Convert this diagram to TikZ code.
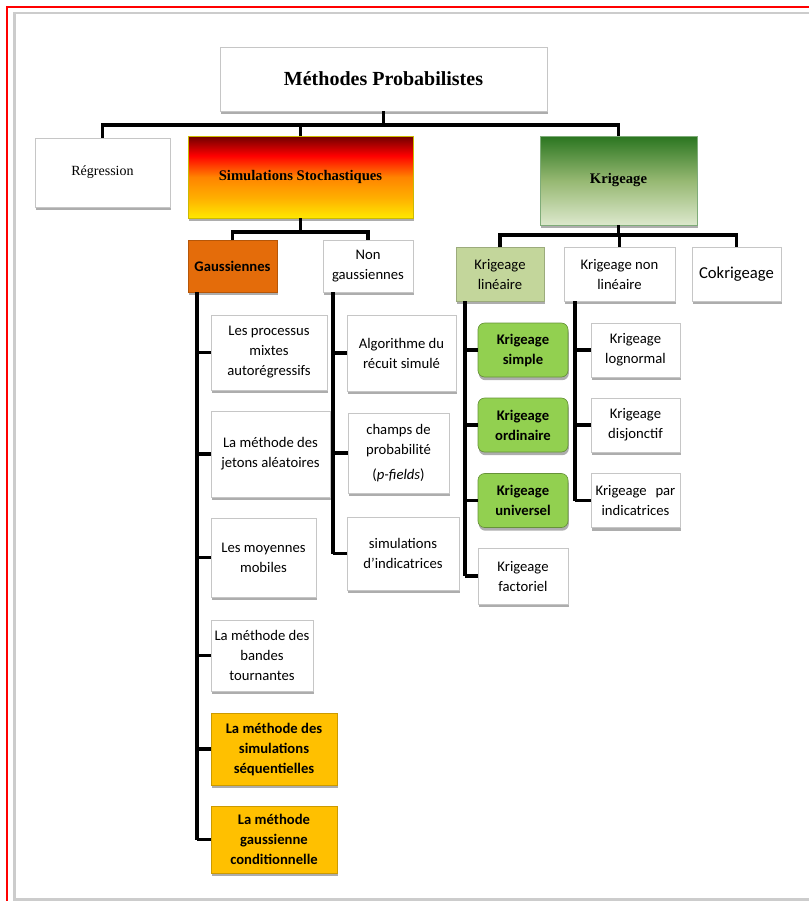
\documentclass[tikz,border=0pt]{standalone}
\usepackage{fontspec}
\setmainfont{Carlito}
\newfontfamily\serifT{Liberation Serif}
\usetikzlibrary{shadows,calc}
\definecolor{gauOr}{HTML}{E46C0A}
\definecolor{goldB}{HTML}{FFC000}
\definecolor{kgreen}{HTML}{92D050}
\definecolor{klight}{HTML}{C3D69B}
\definecolor{ssDark}{HTML}{6E0000}
\definecolor{ssRed}{HTML}{FF0000}
\definecolor{ssOr}{HTML}{FF8400}
\definecolor{ssAmb}{HTML}{FFB000}
\definecolor{ssYel}{HTML}{FFE800}
\definecolor{kgTop}{HTML}{2A7520}
\definecolor{kgMid}{HTML}{96B872}
\definecolor{kgBot}{HTML}{DCE8CC}
\pgfdeclareverticalshading{simshade}{100bp}{color(0bp)=(ssYel); color(25bp)=(ssYel); color(37bp)=(ssAmb); color(50bp)=(ssOr); color(63bp)=(ssRed); color(75bp)=(ssDark); color(100bp)=(ssDark)}
\pgfdeclareverticalshading{kgshade}{100bp}{color(0bp)=(kgBot); color(25bp)=(kgBot); color(50bp)=(kgMid); color(75bp)=(kgTop); color(100bp)=(kgTop)}
\tikzset{
  sz/.style 2 args={minimum width={#1*0.75pt}, minimum height={#2*0.75pt}},
  base/.style={draw=gray!45, line width=0.5pt, inner sep=1pt, align=center,
    font=\fontsize{11}{15}\selectfont,
    drop shadow={shadow xshift=0.6pt, shadow yshift=-2.4pt, fill=black, opacity=0.32}},
  wbox/.style={base, fill=white},
  gbox/.style={base, fill=kgreen, draw=kgreen!70!black, rounded corners=5pt, font=\fontsize{11}{15}\selectfont\bfseries},
  yboxx/.style={base, fill=goldB, draw=goldB!80!black, font=\fontsize{11}{15}\selectfont\bfseries},
  conn/.style={line width=2.8pt, black},
}
\begin{document}
\begin{tikzpicture}[x=0.75pt,y=-0.75pt]
\useasboundingbox (0,0) rectangle (809,901);
\draw[red, line width=1.1pt] (7,7) rectangle (830,920);
\draw[gray!40, line width=1.8pt] (14.5,13) rectangle (830,899.5);

% top level
\node[wbox, sz={327}{64}, font=\serifT\fontsize{15}{18}\selectfont\bfseries] (title) at (383.5,79) {Méthodes Probabilistes};
\node[wbox, sz={135}{69}, font=\serifT\fontsize{10.5}{12}\selectfont] (reg) at (102.5,172.5) {Régression};
\node[base, shading=simshade, draw=ssYel!80!black, sz={225}{82}, font=\serifT\fontsize{11}{13}\selectfont\bfseries] (sim) at (300.5,177) {Simulations Stochastiques};
\node[base, shading=kgshade, draw=kgTop!60, sz={157}{89}, font=\serifT\fontsize{11}{13}\selectfont\bfseries] (krig) at (618.5,180.5) {Krigeage};

\draw[conn] (title.south) -- (title.south |- 0,125);
\draw[conn] (reg.north) |- (krig.north |- 0,125) -- (krig.north);
\draw[conn] (sim.north |- 0,125) -- (sim.north);

% simulations
\node[base, fill=gauOr, draw=gauOr!80!black, sz={89}{52}, font=\fontsize{11}{15}\selectfont\bfseries] (gau) at (232.5,266) {Gaussiennes};
\node[wbox, sz={90}{52}] (ng) at (368,266) {Non\\gaussiennes};
\draw[conn] (sim.south) -- (sim.south |- 0,232);
\draw[conn] (gau.north) |- (ng.north |- 0,232) -- (ng.north);

\node[wbox, sz={116}{75}] (g1) at (269,352.5) {Les processus\\mixtes\\autorégressifs};
\node[wbox, sz={119}{86}] (g2) at (270.5,454) {La méthode des\\jetons aléatoires};
\node[wbox, sz={105}{79}] (g3) at (263.5,557.5) {Les moyennes\\mobiles};
\node[wbox, sz={102}{71}] (g4) at (262,655.5) {La méthode des\\bandes\\tournantes};
\node[yboxx, sz={126}{72}] (g5) at (274,749) {La méthode des\\simulations\\séquentielles};
\node[yboxx, sz={126}{67}] (g6) at (274,839.5) {La méthode\\gaussienne\\conditionnelle};

\coordinate (gl) at (197,292);
\draw[conn] (gl) -- (gl |- g6.west);
\foreach \n in {g1,g2,g3,g4,g5,g6} \draw[conn] (gl |- \n.west) -- (\n.west);

\node[wbox, sz={109}{76}] (n1) at (401.5,353) {Algorithme du\\récuit simulé};
\node[wbox, sz={101}{80}] (n2) at (398.5,453) {champs de\\probabilité\\[4pt](\textit{p-fields})};
\node[wbox, sz={112}{73}] (n3) at (403,553.5) {simulations\\d’indicatrices};

\coordinate (nl) at (333,292);
\draw[conn] (nl) -- (nl |- n3.west);
\foreach \n in {n1,n2,n3} \draw[conn] (nl |- \n.west) -- (\n.west);

% krigeage
\node[base, fill=klight, draw=klight!80!black, sz={88}{54}] (kl) at (500,274) {Krigeage\\linéaire};
\node[wbox, sz={111}{54}] (knl) at (619.5,274) {Krigeage non\\linéaire};
\node[wbox, sz={89}{54}, font=\fontsize{12.5}{15}\selectfont] (cok) at (736.5,274) {Cokrigeage};
\draw[conn] (krig.south) -- (krig.south |- 0,235);
\draw[conn] (kl.north) |- (cok.north |- 0,235) -- (cok.north);
\draw[conn] (knl.north |- 0,235) -- (knl.north);

\node[gbox, sz={90}{54}] (k1) at (523,350) {Krigeage\\simple};
\node[gbox, sz={90}{54}] (k2) at (523,425) {Krigeage\\ordinaire};
\node[gbox, sz={90}{54}] (k3) at (523,500.5) {Krigeage\\universel};
\node[wbox, sz={90}{56}] (k4) at (523,576) {Krigeage\\factoriel};

\coordinate (kll) at (465,301);
\draw[conn] (kll) -- (kll |- k4.west);
\foreach \n in {k1,k2,k3,k4} \draw[conn] (kll |- \n.west) -- (\n.west);

\node[wbox, sz={89}{54}] (m1) at (635.5,350) {Krigeage\\lognormal};
\node[wbox, sz={89}{54}] (m2) at (635.5,425) {Krigeage\\disjonctif};
\node[wbox, sz={89}{54}] (m3) at (635.5,500.5) {Krigeage\hspace{0.6em}par\\indicatrices};

\coordinate (knll) at (575,301);
\draw[conn] (knll) -- (knll |- m3.west);
\foreach \n in {m1,m2,m3} \draw[conn] (knll |- \n.west) -- (\n.west);
\end{tikzpicture}
\end{document}
